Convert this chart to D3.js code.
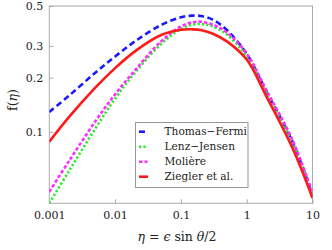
<!DOCTYPE html>
<html>
<head>
<meta charset="utf-8">
<script src="https://cdn.jsdelivr.net/npm/d3@7"></script>
<style>
  body { margin: 0; background: #fff; }
  svg text { fill: #222; }
</style>
</head>
<body>
<div id="chart"></div>
<script>
const eta = [0.001, 0.002, 0.005, 0.01, 0.02, 0.05, 0.1, 0.15, 0.2, 0.3, 0.5, 1, 2, 5, 10]

const thomasFermi = [0.129, 0.159, 0.213, 0.262, 0.318, 0.392, 0.433, 0.442, 0.440, 0.421, 0.368, 0.271, 0.167, 0.0877, 0.0446]
const lenzJensen  = [0.0401, 0.0608, 0.1043, 0.1528, 0.2131, 0.3074, 0.373, 0.394, 0.397, 0.386, 0.347, 0.262, 0.164, 0.0865, 0.0442]
const moliere     = [0.0465, 0.0690, 0.1143, 0.1616, 0.2193, 0.318, 0.385, 0.406, 0.4086, 0.395, 0.356, 0.272, 0.170, 0.0895, 0.0458]
const ziegler     = [0.0881, 0.121, 0.176, 0.226, 0.280, 0.345, 0.369, 0.371, 0.368, 0.352, 0.318, 0.252, 0.157, 0.0808, 0.0429]

const xTicks = [0.001, 0.01, 0.1, 1, 10]
const yTicks = [0.1, 0.2, 0.3, 0.5]

const series = [
  { name: 'Thomas\u2212Fermi', values: thomasFermi, color: '#1a1aff', dash: '6,3.5' },
  { name: 'Lenz\u2212Jensen', values: lenzJensen, color: '#22ee22', dash: '2.2,2.2' },
  { name: 'Moli\u00e8re', values: moliere, color: '#ff2eff', dash: '3.5,2' },
  { name: 'Ziegler et al.', values: ziegler, color: '#ff1a1a', dash: null }
]

const W = 332, H = 250
const LEFT = 49.3, RIGHT = 312.5, TOP = 6, BOTTOM = 203.3
const SERIF = 'DejaVu Serif'

const svg = d3.select('#chart').append('svg')
  .attr('width', W)
  .attr('height', H)
  .style('font-family', SERIF)

const x = d3.scaleLog().domain([0.001, 10]).range([LEFT, RIGHT])
const y = d3.scaleLog().domain([0.0401, 0.5]).range([BOTTOM, TOP])

svg.append('clipPath').attr('id', 'clip')
  .append('rect')
  .attr('x', LEFT).attr('y', TOP)
  .attr('width', RIGHT - LEFT).attr('height', BOTTOM - TOP)

// frame
svg.append('rect')
  .attr('x', LEFT).attr('y', TOP)
  .attr('width', RIGHT - LEFT).attr('height', BOTTOM - TOP)
  .attr('fill', 'none')
  .attr('stroke', '#aaa')
  .attr('stroke-width', 1)

// axes, ticks pointing inward
const xAxis = d3.axisBottom(x).tickValues(xTicks).tickSizeInner(-4).tickSizeOuter(0)
  .tickPadding(8).tickFormat(d => d3.format('~g')(d))
svg.append('g')
  .attr('transform', `translate(0, ${BOTTOM})`)
  .call(xAxis)
  .call(g => g.select('.domain').remove())
  .call(g => g.selectAll('line').attr('stroke', '#aaa'))
  .call(g => g.selectAll('text').attr('font-size', '11px').style('font-family', SERIF).attr('fill', '#222'))

const yAxis = d3.axisLeft(y).tickValues(yTicks).tickSizeInner(-4).tickSizeOuter(0)
  .tickPadding(6).tickFormat(d => d)
svg.append('g')
  .attr('transform', `translate(${LEFT}, 0)`)
  .call(yAxis)
  .call(g => g.select('.domain').remove())
  .call(g => g.selectAll('line').attr('stroke', '#aaa'))
  .call(g => g.selectAll('text').attr('font-size', '11px').style('font-family', SERIF).attr('fill', '#222'))

// curves
const line = d3.line()
  .x(d => x(d[0]))
  .y(d => y(d[1]))
  .curve(d3.curveCatmullRom.alpha(0.5))

const curves = svg.append('g').attr('clip-path', 'url(#clip)')
series.forEach(s => {
  curves.append('path')
    .datum(eta.map((e, i) => [e, s.values[i]]))
    .attr('d', line)
    .attr('fill', 'none')
    .attr('stroke', s.color)
    .attr('stroke-width', 2.6)
    .attr('stroke-dasharray', s.dash)
})

// legend
const legend = svg.append('g')
legend.append('rect')
  .attr('x', 135.5).attr('y', 122.5)
  .attr('width', 112.5).attr('height', 65)
  .attr('fill', '#fff')
  .attr('stroke', '#999')
  .attr('stroke-width', 1)

series.forEach((s, i) => {
  const ly = 131.7 + i * 15
  legend.append('line')
    .attr('x1', 139).attr('x2', s.dash ? 147.5 : 148)
    .attr('y1', ly).attr('y2', ly)
    .attr('stroke', s.color)
    .attr('stroke-width', 2.6)
    .attr('stroke-dasharray', s.dash)
  legend.append('text')
    .attr('x', 164.5).attr('y', ly)
    .attr('dy', '0.35em')
    .attr('font-size', '10.6px')
    .style('font-family', SERIF)
    .text(s.name)
})

// axis labels
svg.append('text')
  .attr('transform', 'translate(17, 100) rotate(-90)')
  .attr('text-anchor', 'middle')
  .attr('font-size', '12.5px')
  .style('font-family', SERIF)
  .html('f(<tspan font-style="italic">\u03b7</tspan>)')

svg.append('text')
  .attr('x', 177).attr('y', 241)
  .attr('text-anchor', 'middle')
  .attr('font-size', '12.5px')
  .style('font-family', SERIF)
  .html('<tspan font-style="italic">\u03b7</tspan> = <tspan font-style="italic">\u03f5</tspan> sin <tspan font-style="italic">\u03b8</tspan>/2')
</script>
</body>
</html>
